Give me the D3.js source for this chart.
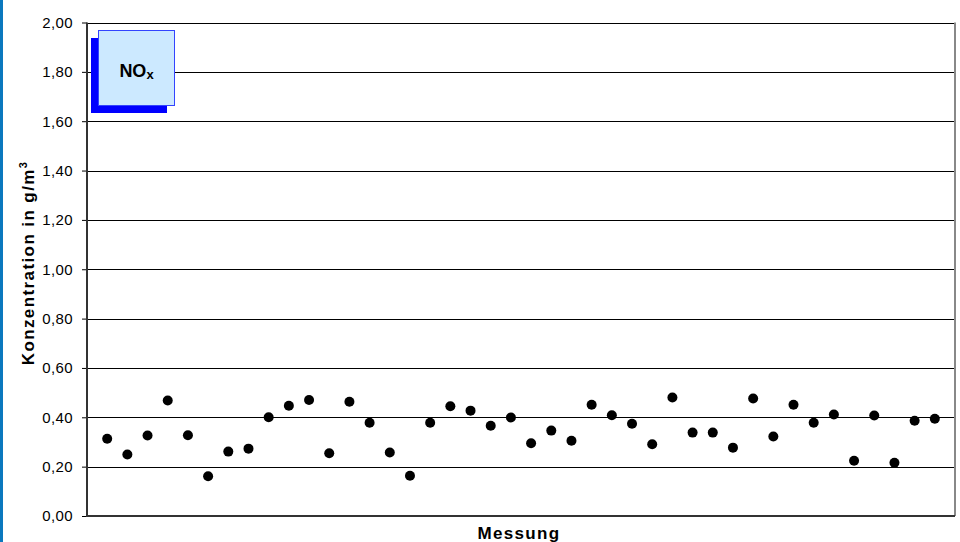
<!DOCTYPE html>
<html><head><meta charset="utf-8">
<script src="https://cdn.jsdelivr.net/npm/d3@7"></script>
<style>body{margin:0;background:#fff;}svg{display:block;font-family:"Liberation Sans",Arial,sans-serif;}</style>
</head><body>
<svg id="c" width="960" height="542"></svg>
<script>
const measurements = d3.range(1, 43);
const values = [0.313,0.249,0.326,0.468,0.327,0.161,0.261,0.273,0.400,0.447,0.470,0.254,
  0.463,0.378,0.257,0.163,0.378,0.445,0.427,0.366,0.399,0.295,0.346,0.305,0.451,0.408,
  0.374,0.291,0.480,0.338,0.338,0.277,0.476,0.322,0.451,0.378,0.411,0.224,0.407,0.216,0.386,0.394];
const yTicks = [0,0.2,0.4,0.6,0.8,1.0,1.2,1.4,1.6,1.8,2.0];

const svg = d3.select("#c");
const L = 87, R = 955, T = 22.5, B = 516;
const x = d3.scalePoint().domain(measurements).range([L, R]).padding(1);
const y = d3.scaleLinear().domain([0, 2]).range([B, T]);

// left blue strip
svg.append("rect").attr("x",0).attr("y",0).attr("width",3).attr("height",542).attr("fill","#0a78be");

// gridlines
svg.append("g").selectAll("line").data(yTicks.filter(d=>d>0)).join("line")
  .attr("x1",L).attr("x2",R).attr("y1",d=>Math.round(y(d))+0.5).attr("y2",d=>Math.round(y(d))+0.5)
  .attr("stroke","#000").attr("stroke-width",1);

// right border
svg.append("line").attr("x1",R).attr("x2",R).attr("y1",T).attr("y2",B).attr("stroke","#888").attr("stroke-width",2);

// y axis
const yAxis = d3.axisLeft(y).tickValues(yTicks).tickSize(5).tickPadding(9)
  .tickFormat(d => d3.format(".2f")(d).replace(".", ","));
const gy = svg.append("g").attr("transform",`translate(${L},0)`).call(yAxis);
gy.select(".domain").remove();
gy.selectAll(".tick line").attr("stroke","#000");
gy.selectAll(".tick text").attr("font-size",15).attr("letter-spacing","0.4px").attr("fill","#000")
  .attr("font-family","Liberation Sans, Arial, sans-serif");
svg.append("line").attr("x1",L).attr("x2",L).attr("y1",T).attr("y2",B+1).attr("stroke","#333").attr("stroke-width",2);
svg.append("line").attr("x1",L).attr("x2",R).attr("y1",B).attr("y2",B).attr("stroke","#333").attr("stroke-width",2);

// points
svg.append("g").selectAll("circle").data(values).join("circle")
  .attr("cx",(d,i)=>x(measurements[i])).attr("cy",d=>y(d)).attr("r",5).attr("fill","#000");

// NOx label box
svg.append("rect").attr("x",91).attr("y",38).attr("width",76).attr("height",75).attr("fill","#0000ff");
svg.append("rect").attr("x",98.5).attr("y",30.5).attr("width",76).attr("height",75).attr("fill","#cce9ff").attr("stroke","#3344ff").attr("stroke-width",1);
const t = svg.append("text").attr("x",136.5).attr("y",76.5).attr("text-anchor","middle")
  .attr("font-size",18).attr("font-weight","bold").attr("fill","#000");
t.append("tspan").text("NO");
t.append("tspan").attr("font-size",13).attr("dy",2).text("x");

// axis titles
svg.append("text").attr("x",519).attr("y",539).attr("text-anchor","middle")
  .attr("font-size",17).attr("letter-spacing","1.3px").attr("font-weight","bold").text("Messung");
const yt = svg.append("text").attr("transform","translate(34,263) rotate(-90)").attr("text-anchor","middle")
  .attr("font-size",17).attr("letter-spacing","1.4px").attr("font-weight","bold");
yt.append("tspan").text("Konzentration in g/m");
yt.append("tspan").attr("font-size",11).attr("dy",-7).text("3");
</script>
</body></html>
